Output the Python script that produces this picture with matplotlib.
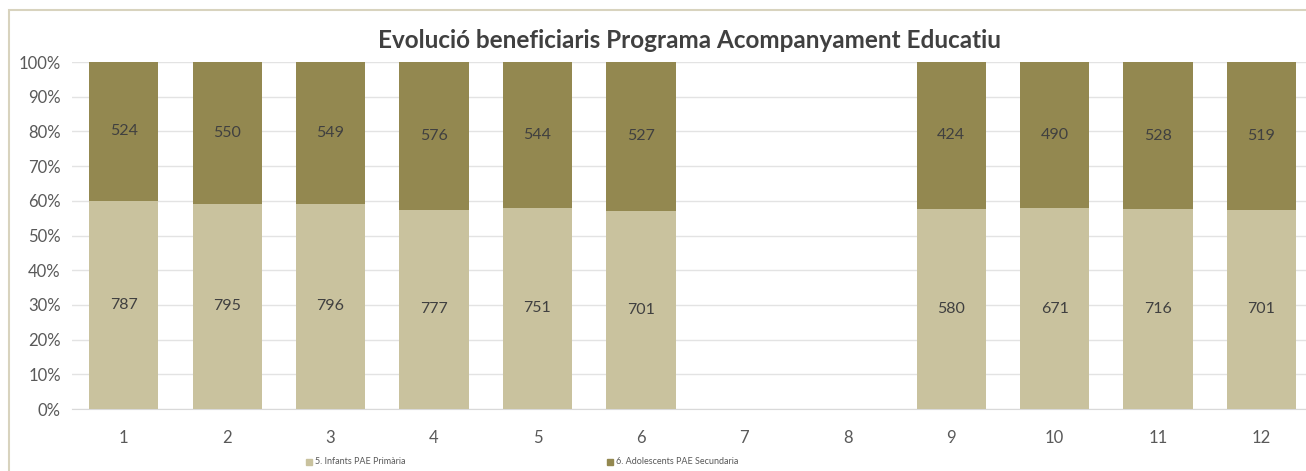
import numpy as np
import matplotlib.pyplot as plt
from matplotlib.patches import Rectangle

plt.rcParams['font.family'] = ['Lato', 'DejaVu Sans']

# Dades
categories = ['1', '2', '3', '4', '5', '6', '7', '8', '9', '10', '11', '12']
primaria = [787, 795, 796, 777, 751, 701, 0, 0, 580, 671, 716, 701]
secundaria = [524, 550, 549, 576, 544, 527, 0, 0, 424, 490, 528, 519]
series_names = ['5. Infants PAE Primària', '6. Adolescents PAE Secundaria']
title = 'Evolució beneficiaris Programa Acompanyament Educatiu'

col_prim = '#C9C29E'
col_sec = '#938850'
txt = '#595959'

prim = np.array(primaria, dtype=float)
sec = np.array(secundaria, dtype=float)
tot = prim + sec
with np.errstate(invalid='ignore', divide='ignore'):
    p_prim = np.where(tot > 0, prim / tot, 0)
    p_sec = np.where(tot > 0, sec / tot, 0)

x = np.arange(1, len(categories) + 1)

fig = plt.figure(figsize=(13.06, 4.71), dpi=100)
# marc del gràfic
fig.patches.append(Rectangle((9 / 1306, -0.1), 1.2, 1.1 - 10 / 471,
                             transform=fig.transFigure, fill=False,
                             edgecolor='#D8D3BE', linewidth=1.5))

ax = fig.add_axes([72 / 1306, 62 / 471, 1 - 72 / 1306, 347 / 471])
w = 0.67
ax.bar(x, p_prim, width=w, color=col_prim, label=series_names[0], zorder=3)
ax.bar(x, p_sec, width=w, bottom=p_prim, color=col_sec, label=series_names[1], zorder=3)

for i in range(len(x)):
    if tot[i] > 0:
        ax.text(x[i], p_prim[i] / 2, f'{primaria[i]}', ha='center', va='center',
                fontsize=11.5, color='#404040', zorder=4)
        ax.text(x[i], p_prim[i] + p_sec[i] / 2, f'{secundaria[i]}', ha='center',
                va='center', fontsize=11.5, color='#404040', zorder=4)

ax.set_xlim(0.5, 12.43)
ax.set_ylim(0, 1)
ax.set_yticks(np.arange(0, 1.01, 0.1))
ax.set_yticklabels([f'{int(round(v * 100))}%' for v in np.arange(0, 1.01, 0.1)])
ax.set_xticks(x)
ax.set_xticklabels(categories)
ax.tick_params(length=0, labelsize=12, labelcolor=txt)
ax.tick_params(axis='x', pad=15)
ax.tick_params(axis='y', pad=8)
ax.grid(axis='y', color='#E3E3E3', linewidth=1, zorder=0)
for s in ['top', 'right', 'left']:
    ax.spines[s].set_visible(False)
ax.spines['bottom'].set_color('#D9D9D9')

fig.text(0.528, 1 - 40 / 471, title, ha='center', va='center', fontsize=17.5,
         fontweight='bold', color='#404040')

# llegenda
fig.patches.append(Rectangle((306 / 1306, 1 - 465 / 471), 6 / 1306, 6 / 471,
                             transform=fig.transFigure, color=col_prim))
fig.text(315 / 1306, 1 - 462 / 471, series_names[0], fontsize=6.5, color=txt,
         va='center')
fig.patches.append(Rectangle((607 / 1306, 1 - 465 / 471), 6 / 1306, 6 / 471,
                             transform=fig.transFigure, color=col_sec))
fig.text(616 / 1306, 1 - 462 / 471, series_names[1], fontsize=6.5, color=txt,
         va='center')

fig.savefig('out.png', dpi=100)
